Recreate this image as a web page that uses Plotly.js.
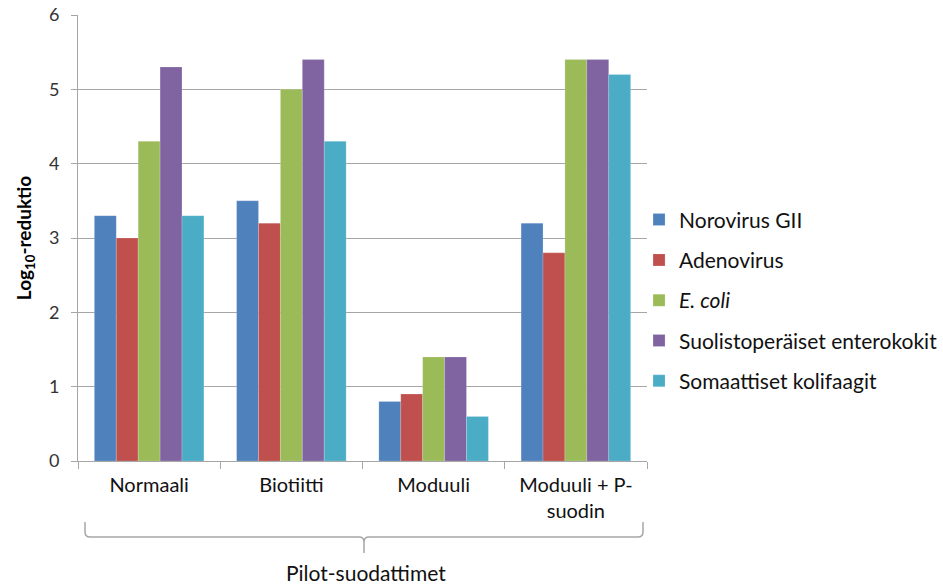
<!DOCTYPE html>
<html>
<head>
<meta charset="utf-8">
<script src="https://cdn.plot.ly/plotly-3.0.1.min.js"></script>
<style>html,body{margin:0;padding:0;background:#fff;}#chart{width:943px;height:584px;}</style>
</head>
<body>
<div id="chart"></div>
<script>
const categories = ["Normaali", "Biotiitti", "Moduuli", "Moduuli + P-<br>suodin"];
const seriesNames = ["Norovirus GII", "Adenovirus", "<i>E. coli</i>", "Suolistoperäiset enterokokit", "Somaattiset kolifaagit"];
const norovirus = [3.3, 3.5, 0.8, 3.2];
const adenovirus = [3.0, 3.2, 0.9, 2.8];
const ecoli = [4.3, 5.0, 1.4, 5.4];
const enterokokit = [5.3, 5.4, 1.4, 5.4];
const kolifaagit = [3.3, 4.3, 0.6, 5.2];
const colors = ["#4F81BD", "#C0504D", "#9BBB59", "#8064A2", "#4BACC6"];
const yTicks = [0, 1, 2, 3, 4, 5, 6];

const seriesValues = [norovirus, adenovirus, ecoli, enterokokit, kolifaagit];
const FONT = "Lato, 'Open Sans', sans-serif";

const traces = seriesValues.map((vals, i) => ({
  type: "bar",
  x: categories,
  y: vals,
  name: seriesNames[i],
  legendgroup: "g" + i,
  marker: { color: colors[i], line: { color: "rgba(255,255,255,0.35)", width: 0.5 } },
  hoverinfo: "x+y+name"
}));

const W = 943, H = 584;
const mL = 78, mR = 296, mT = 15, mB = 123;
const pw = W - mL - mR, ph = H - mT - mB;
const px = x => (x - mL) / pw;
const py = y => (H - mB - y) / ph;

// curly brace under the categories
const bx0 = 85, bx1 = 643, bc = (bx0 + bx1) / 2;
const yT = 522, yL = 537, yC = 553;
const r = 5;
const bracePath = [
  `M ${px(bx0)},${py(yT)}`,
  `L ${px(bx0)},${py(yL - r)}`,
  `Q ${px(bx0)},${py(yL)} ${px(bx0 + r)},${py(yL)}`,
  `L ${px(bc - r)},${py(yL)}`,
  `Q ${px(bc)},${py(yL)} ${px(bc)},${py(yL + r)}`,
  `L ${px(bc)},${py(yC)}`,
  `M ${px(bc)},${py(yL + r)}`,
  `Q ${px(bc)},${py(yL)} ${px(bc + r)},${py(yL)}`,
  `L ${px(bx1 - r)},${py(yL)}`,
  `Q ${px(bx1)},${py(yL)} ${px(bx1)},${py(yL - r)}`,
  `L ${px(bx1)},${py(yT)}`
].join(" ");

const layout = {
  width: W, height: H,
  margin: { l: mL, r: mR, t: mT, b: mB, pad: 0, autoexpand: false },
  paper_bgcolor: "#fff", plot_bgcolor: "#fff",
  font: { family: FONT, size: 18, color: "#111" },
  barmode: "group",
  bargap: 0.23,
  bargroupgap: 0,
  showlegend: true,
  legend: {
    x: 0.986, xanchor: "left", y: 0.36, yanchor: "middle",
    font: { family: FONT, size: 21, color: "#111" },
    tracegroupgap: 10,
    itemwidth: 30,
    bgcolor: "rgba(0,0,0,0)"
  },
  xaxis: {
    type: "category",
    tickson: "boundaries",
    ticks: "outside", ticklen: 7, tickcolor: "#a6a6a6", tickwidth: 1,
    showline: true, linecolor: "#a6a6a6", linewidth: 1,
    showgrid: false,
    automargin: false,
    ticklabelstandoff: 6,
    tickfont: { family: FONT, size: 20, color: "#111" },
    fixedrange: true
  },
  yaxis: {
    range: [0, 6],
    tickvals: yTicks,
    ticktext: yTicks.map(String),
    ticks: "outside", ticklen: 6, tickcolor: "#a6a6a6",
    showline: true, linecolor: "#a6a6a6", linewidth: 1,
    showgrid: true, gridcolor: "#a6a6a6", gridwidth: 1,
    zeroline: false,
    automargin: false,
    ticklabelstandoff: 8,
    tickfont: { family: FONT, size: 18, color: "#333" },
    title: { text: "<b>Log<sub>10</sub>-reduktio</b>", font: { family: FONT, size: 19, color: "#000" }, standoff: 12 },
    fixedrange: true
  },
  shapes: [{
    type: "path", xref: "paper", yref: "paper",
    path: bracePath,
    line: { color: "#a6a6a6", width: 1.5 }
  }],
  annotations: [{
    text: "Pilot-suodattimet", xref: "paper", yref: "paper",
    x: px(bc + 2), y: py(572), xanchor: "center", yanchor: "middle",
    showarrow: false, font: { family: FONT, size: 21, color: "#111" }
  }]
};

Plotly.newPlot("chart", traces, layout, { displayModeBar: false, staticPlot: true });
</script>
</body>
</html>
